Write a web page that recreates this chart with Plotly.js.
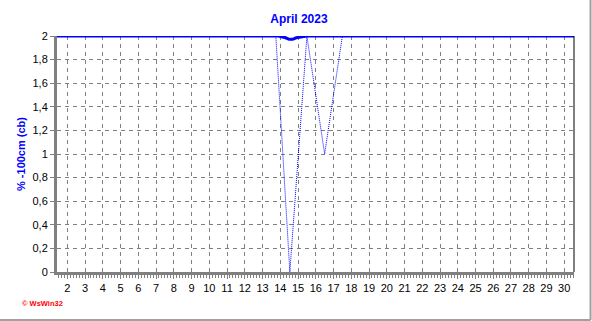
<!DOCTYPE html>
<html>
<head>
<meta charset="utf-8">
<script src="https://cdn.plot.ly/plotly-3.0.1.min.js"></script>
<style>html,body{margin:0;padding:0;background:#fff;}#chart{width:592px;height:321px;}</style>
</head>
<body>
<div id="chart"></div>
<script>
// Solid series (near 2 all month, tiny dip on the 14th)
var solidDays   = [1, 13.9, 14.3, 14.5, 14.7, 14.9, 15.5, 31];
var solidValues = [2, 2, 1.985, 1.972, 1.972, 1.985, 2, 2];
// Dotted series (drops to 0 and 1)
var dotDays   = [1, 13.75, 14.54, 15.5, 16.5, 17.5, 31];
var dotValues = [2, 2, 0, 2, 1, 2, 2];
// Axis ticks
var xTicks = [2,3,4,5,6,7,8,9,10,11,12,13,14,15,16,17,18,19,20,21,22,23,24,25,26,27,28,29,30];
var xTickLabels = xTicks.map(String);
var yTicks = [0,0.2,0.4,0.6,0.8,1,1.2,1.4,1.6,1.8,2];

var traces = [
  {x: dotDays, y: dotValues, type: 'scatter', mode: 'lines',
   line: {color: '#0000FF', width: 1, dash: '1px,1px'}, hoverinfo: 'none'},
  {x: solidDays, y: solidValues, type: 'scatter', mode: 'lines',
   line: {color: '#0000FF', width: 3}, hoverinfo: 'none'}
];

var gridStyle = {gridcolor: '#808080', gridwidth: 1, griddash: '4px,4px'};

var layout = {
  width: 592, height: 321,
  margin: {l: 57, r: 18, t: 36, b: 49},
  paper_bgcolor: '#ffffff', plot_bgcolor: '#ffffff',
  separators: ',.',
  showlegend: false,
  font: {family: 'Arial, "Liberation Sans", sans-serif', size: 11, color: '#000'},
  title: {text: '<b>April 2023</b>', x: 0.505, xref: 'container', xanchor: 'center', y: 0.94, yanchor: 'middle',
          font: {family: 'Arial, "Liberation Sans", sans-serif', size: 12, color: '#0000FF'}},
  xaxis: Object.assign({
    range: [1.42, 30.55], tickmode: 'array', tickvals: xTicks, ticktext: xTickLabels,
    showgrid: true, zeroline: false, showline: true, linecolor: '#808080', linewidth: 3,
    ticks: 'outside', ticklen: 4, tickcolor: '#808080', tickwidth: 1,
    tickfont: {size: 11, color: '#000'},
    minor: {dtick: 1/6, tick0: 0, ticks: 'outside', ticklen: 3, tickcolor: '#808080', showgrid: false}
  }, gridStyle),
  yaxis: Object.assign({
    range: [0, 2], tickmode: 'array', tickvals: yTicks,
    tickformat: '.1~f',
    showgrid: true, zeroline: false, showline: true, linecolor: '#808080', linewidth: 3,
    ticks: 'outside', ticklen: 4, tickcolor: '#808080', tickwidth: 1,
    tickfont: {size: 11, color: '#000'},
    title: {text: '<b>% -100cm (cb)</b>', standoff: 5,
            font: {family: 'Arial, "Liberation Sans", sans-serif', size: 11, color: '#0000FF'}}
  }, gridStyle),
  shapes: [
    {type: 'line', xref: 'paper', yref: 'paper', x0: 1, x1: 1, y0: 0, y1: 1,
     line: {color: '#000000', width: 1}},
    {type: 'line', xref: 'paper', yref: 'paper', x0: -0.2, x1: 1.032, y0: -0.2034, y1: -0.2034,
     line: {color: '#a0a0a0', width: 2}},
    {type: 'line', xref: 'paper', yref: 'paper', x0: 1.032, x1: 1.032, y0: -0.2034, y1: 1.2,
     line: {color: '#a0a0a0', width: 2}}
  ],
  annotations: [
    {text: '<b>© WsWin32</b>', xref: 'paper', yref: 'paper', x: -0.072, y: -0.135,
     xanchor: 'left', yanchor: 'middle', showarrow: false,
     font: {family: 'Arial, "Liberation Sans", sans-serif', size: 7.5, color: '#FF0000'}}
  ]
};

Plotly.newPlot('chart', traces, layout, {staticPlot: true, displayModeBar: false});
</script>
</body>
</html>
